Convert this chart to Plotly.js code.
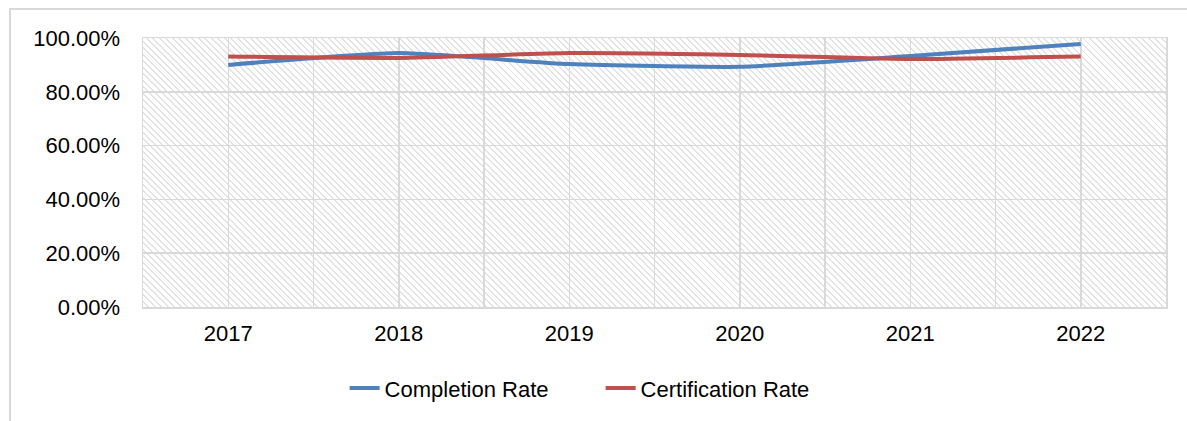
<!DOCTYPE html>
<html>
<head>
<meta charset="utf-8">
<script src="https://cdn.plot.ly/plotly-3.0.1.min.js"></script>
<style>
  html, body { margin:0; padding:0; width:1187px; height:421px; overflow:hidden; background:#fff; }
  #frame { position:absolute; left:9px; top:8px; width:1300px; height:600px; border:2px solid #d9d9d9; box-sizing:border-box; }
  #hatch { position:absolute; left:143px; top:38px; width:1023px; height:269px;
    background: repeating-linear-gradient(45deg, #ffffff 0px, #ffffff 3.2px, #e3e3e3 3.2px, #e3e3e3 4.6px); }
  #chart { position:absolute; left:0; top:0; width:1187px; height:421px; }
</style>
</head>
<body>
<div id="frame"></div>
<div id="hatch"></div>
<div id="chart"></div>
<script>
const years = [2017, 2018, 2019, 2020, 2021, 2022];
const completionRate = [0.900, 0.944, 0.903, 0.893, 0.933, 0.978];
const certificationRate = [0.931, 0.926, 0.944, 0.937, 0.922, 0.931];
const seriesNames = ["Completion Rate", "Certification Rate"];
const captionText = "2022";

const traces = [
  { x: years, y: completionRate, name: seriesNames[0], type: "scatter", mode: "lines",
    line: { color: "#4F81BD", width: 4, shape: "spline", smoothing: 0.5 } },
  { x: years, y: certificationRate, name: seriesNames[1], type: "scatter", mode: "lines",
    line: { color: "#C0504D", width: 4, shape: "spline", smoothing: 0.5 } }
];

const layout = {
  width: 1187, height: 421,
  margin: { l: 143, r: 21, t: 38, b: 114 },
  paper_bgcolor: "rgba(0,0,0,0)",
  plot_bgcolor: "rgba(0,0,0,0)",
  font: { family: "Liberation Sans, Arial, sans-serif", size: 22, color: "#000" },
  showlegend: true,
  legend: { orientation: "h", xref: "container", yref: "container", x: 0.506, xanchor: "center",
            y: 0.078, yanchor: "middle", font: { size: 22 }, entrywidth: 211, entrywidthmode: "pixels",
            tracegroupgap: 0 },
  xaxis: {
    type: "linear", range: [2016.5, 2022.5], tickmode: "array", tickvals: years, ticktext: years.map(String),
    showgrid: true, gridcolor: "#d9d9d9", gridwidth: 1.5,
    minor: { dtick: 0.5, tick0: 2016.5, showgrid: true, gridcolor: "#d9d9d9", gridwidth: 1.5 },
    showline: true, linecolor: "#d9d9d9", linewidth: 1.5, mirror: true,
    ticks: "", zeroline: false, ticklabelstandoff: 6, fixedrange: true
  },
  yaxis: {
    range: [0, 1], dtick: 0.2, tick0: 0, tickformat: ".2%",
    showgrid: true, gridcolor: "#d9d9d9", gridwidth: 1.5,
    showline: true, linecolor: "#d9d9d9", linewidth: 1.5, mirror: true,
    ticks: "", zeroline: false, ticklabelstandoff: 17, fixedrange: true
  },
  annotations: [{
    text: "<b>" + captionText + "</b>", xref: "paper", yref: "paper",
    x: -0.130, y: 1.112, xanchor: "left", yanchor: "bottom", showarrow: false,
    font: { family: "Liberation Serif, Times New Roman, serif", size: 30, color: "#000" }
  }]
};

Plotly.newPlot("chart", traces, layout, { displayModeBar: false, staticPlot: true });
</script>
</body>
</html>
